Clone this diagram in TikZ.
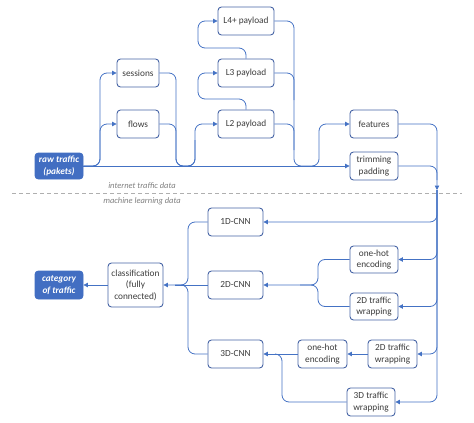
\documentclass[tikz,border=0pt]{standalone}
\usepackage{fontspec}
\setmainfont{Carlito}
\usetikzlibrary{arrows.meta}
\definecolor{linec}{RGB}{68,114,196}
\definecolor{boxc}{RGB}{70,100,165}
\definecolor{fillc}{RGB}{66,110,194}
\definecolor{txtc}{RGB}{60,60,60}
\definecolor{dashc}{RGB}{175,175,175}
\tikzset{
  x=1pt,y=-1pt,
  box/.style={draw=boxc,line width=0.9pt,rounded corners=3.5pt,fill=white,inner sep=0pt,
    align=center,text=txtc,font=\fontsize{9.3}{11.5}\selectfont,minimum width=48pt,minimum height=28pt},
  fbox/.style={box,fill=fillc,draw=fillc,text=white,font=\fontsize{9.3}{11.5}\selectfont\bfseries\itshape},
  conn/.style={draw=linec,line width=0.8pt,rounded corners=7pt},
  arr/.style={conn,-{Triangle[length=4.5pt,width=4.5pt]}},
  note/.style={text=txtc!65,font=\fontsize{8.5}{10}\selectfont\itshape,inner sep=0pt}
}
\begin{document}
\begin{tikzpicture}
\useasboundingbox (0,0) rectangle (474,423);
% dashed separator
\draw[dashc,line width=0.7pt,dash pattern=on 4pt off 3pt] (12,193) -- (462,193);
\node[note] (itd) at (142,186) {internet traffic data};
\node[note] (mld) at (142,201) {machine learning data};
% nodes top
\node[fbox,minimum height=26pt] (raw) at (59,166) {raw traffic\\(pakets)};
\node[box,minimum width=42pt] (ses) at (138,73) {sessions};
\node[box,minimum width=42pt] (flo) at (138,124) {flows};
\node[box,minimum width=56pt] (l4) at (246,21) {L4+ payload};
\node[box,minimum width=56pt] (l3) at (246,73) {L3 payload};
\node[box,minimum width=56pt] (l2) at (246,124) {L2 payload};
\node[box] (fea) at (374,124) {features};
\node[box] (tri) at (374,166) {trimming\\padding};
% nodes bottom
\node[box,minimum width=55pt] (c1) at (235.5,222) {1D-CNN};
\node[box,minimum width=55pt] (c2) at (235.5,285) {2D-CNN};
\node[box,minimum width=55pt] (c3) at (235.5,354) {3D-CNN};
\node[box,minimum width=55pt,minimum height=44pt] (cls) at (135.5,285) {classification\\(fully\\connected)};
\node[fbox] (cat) at (59,285) {category\\of traffic};
\node[box,minimum height=27pt] (oh1) at (374,259.5) {one-hot\\encoding};
\node[box,minimum height=27pt] (wr1) at (374,306.5) {2D traffic\\wrapping};
\node[box,minimum width=49pt] (wr2) at (392.5,354) {2D traffic\\wrapping};
\node[box,minimum width=49pt] (oh2) at (322.5,354) {one-hot\\encoding};
\node[box] (wr3) at (371,402) {3D traffic\\wrapping};
\coordinate (split) at (437,190);
% top connectors
\draw[arr] (raw.east) -- (100,166) |- (ses.west);
\draw[arr] (raw.east) -- (100,166) |- (flo.west);
\draw[arr] (raw.east) -- (tri.west);
\draw[conn] (ses.east) -- (176,73) -- (176,166) -- (195,166) -- (195,140);
\draw[arr] (flo.east) -- (176,124) -- (176,166) -- (195,166) -- (195,124) -- (l2.west);
\draw[arr] (l2.north) -- (246,99) -- (198,99) -- (198,73) -- (l3.west);
\draw[arr] (l3.north) -- (246,48) -- (198,48) -- (198,21) -- (l4.west);
\draw[arr] (l4.east) -- (294,21) -- (294,166) -- (319,166) -- (319,124) -- (fea.west);
\draw[conn] (l3.east) -- (294,73) -- (294,100);
\draw[conn] (l2.east) -- (294,124) -- (294,150);
\draw[arr] (fea.east) -| (split);
\draw[conn] (tri.east) -| (437,180);
% bottom connectors
\draw[arr] (split) |- (c1.east);
\draw[arr] (split) |- (oh1.east);
\draw[arr] (split) |- (wr1.east);
\draw[arr] (split) |- (wr2.east);
\draw[arr] (split) |- (wr3.east);
\draw[arr] (oh1.west) -- (318,259.5) -- (318,285) -- (c2.east);
\draw[conn] (wr1.west) -- (318,306.5) -- (318,285) -- (300,285);
\draw[arr] (wr2.west) -- (oh2.east);
\draw[arr] (oh2.west) -- (c3.east);
\draw[conn] (wr3.west) -- (282,402) -- (282,354) -- (275,354);
\draw[arr] (c1.west) -- (188,222) -- (188,285) -- (cls.east);
\draw[conn] (c2.west) -- (175,285);
\draw[conn] (c3.west) -- (188,354) -- (188,285) -- (175,285);
\draw[arr] (cls.west) -- (cat.east);
\end{tikzpicture}
\end{document}
